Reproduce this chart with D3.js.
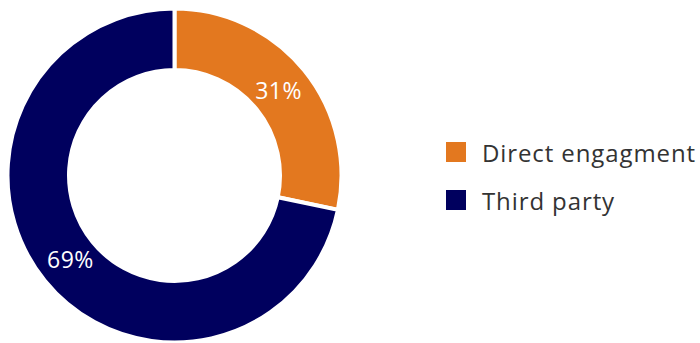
<!DOCTYPE html>
<html>
<head>
  <meta charset="UTF-8">
  <title>Engagement split</title>
  <style>
    body { margin: 0; background: white; font-family: 'Open Sans', sans-serif; }
    svg { display: block; }
    .label { fill: white; font-size: 23px; letter-spacing: 0.5px; }
    .legend text { fill: #333333; font-size: 24px; letter-spacing: 0.9px; }
  </style>
</head>
<body>
  <svg id="chart" width="700" height="343"></svg>

  <script src="https://d3js.org/d3.v7.min.js"></script>
  <script>
    // slice sizes as drawn in the picture, and the labels printed on them
    const categories = ["Direct engagment", "Third party"];
    const shares = [28.3, 71.7];
    const labels = ["31%", "69%"];
    const colors = ["#e3781f", "#00005e"];

    let svg = d3.select("#chart");
    let cx = 174.5, cy = 175.5;

    let pie = d3.pie().sort(null).value(d => d);
    let arcs = pie(shares);

    let arc = d3.arc().innerRadius(105.5).outerRadius(167);
    let labelArc = d3.arc().innerRadius(134).outerRadius(134);

    let g = svg.append("g").attr("transform", "translate(" + cx + "," + cy + ")");

    g.selectAll("path")
      .data(arcs)
      .enter()
      .append("path")
      .attr("d", arc)
      .attr("fill", (d, i) => colors[i])
      .attr("stroke", "white")
      .attr("stroke-width", 4);

    g.selectAll("text")
      .data(arcs)
      .enter()
      .append("text")
      .attr("class", "label")
      .attr("transform", d => "translate(" + labelArc.centroid(d) + ")")
      .attr("text-anchor", "middle")
      .attr("dy", "0.35em")
      .text((d, i) => labels[i]);

    // legend
    let legend = svg.append("g").attr("class", "legend");
    let rows = legend.selectAll("g")
      .data(categories)
      .enter()
      .append("g")
      .attr("transform", (d, i) => "translate(446," + (142 + i * 48) + ")");

    rows.append("rect")
      .attr("width", 20)
      .attr("height", 20)
      .attr("fill", (d, i) => colors[i]);

    rows.append("text")
      .attr("x", 36)
      .attr("y", 19.5)
      .text(d => d);
  </script>
</body>
</html>
